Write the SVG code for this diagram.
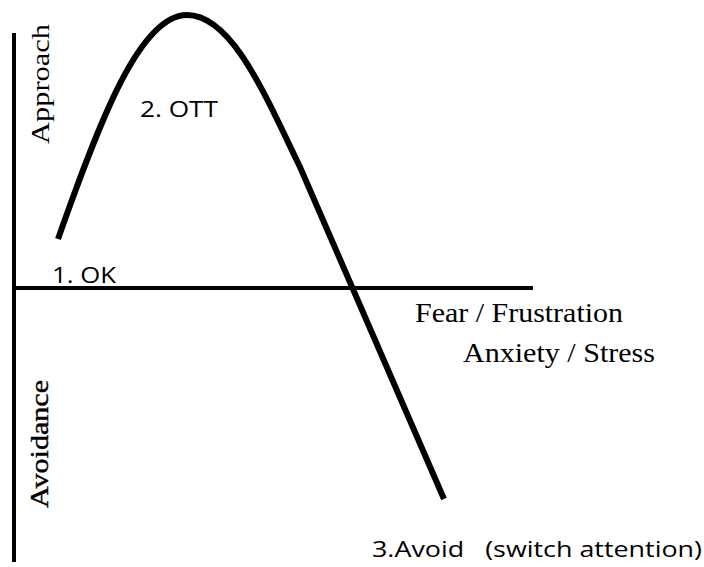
<svg xmlns="http://www.w3.org/2000/svg" width="704" height="567" viewBox="0 0 704 567">
<style>
.axis{stroke:#000;stroke-width:4;fill:none}
.curve{stroke:#000;stroke-width:6;fill:none;stroke-linecap:butt}
.serif{font-family:"Liberation Serif","Times New Roman",serif;fill:#000}
.sans{font-family:"Open Sans","Liberation Sans",sans-serif;fill:#000}
</style>
<rect width="704" height="567" fill="#fff"/>
<g id="connectors">
<line id="y-axis" class="axis" x1="14" y1="33" x2="14" y2="562"/>
<line id="x-axis" class="axis" x1="12" y1="288" x2="533" y2="288"/>
<path id="curve" class="curve" d="M58,239 C100,120 140,15 187,15 C232,15 265,95 300,167 L444,499"/>
</g>
<g id="label-approach"><text class="serif" font-size="26" transform="translate(49,144) rotate(-90)" textLength="120" lengthAdjust="spacingAndGlyphs">Approach</text></g>
<g id="label-avoidance"><text class="serif" font-size="26" stroke="#000" stroke-width="0.4" transform="translate(48,508) rotate(-90)" textLength="128" lengthAdjust="spacingAndGlyphs">Avoidance</text></g>
<g id="label-ok"><text class="sans" font-size="21" x="52" y="283" textLength="64" lengthAdjust="spacingAndGlyphs">1. OK</text></g>
<g id="label-ott"><text class="sans" font-size="21" x="140" y="117" textLength="78" lengthAdjust="spacingAndGlyphs">2. OTT</text></g>
<g id="label-fear"><text class="serif" font-size="27" x="415" y="322" textLength="208" lengthAdjust="spacingAndGlyphs">Fear / Frustration</text></g>
<g id="label-anxiety"><text class="serif" font-size="27" x="463" y="362" textLength="192" lengthAdjust="spacingAndGlyphs">Anxiety / Stress</text></g>
<g id="label-avoid"><text class="sans" font-size="21" x="372" y="557" textLength="330" lengthAdjust="spacingAndGlyphs" xml:space="preserve">3.Avoid   (switch attention)</text></g>
</svg>
